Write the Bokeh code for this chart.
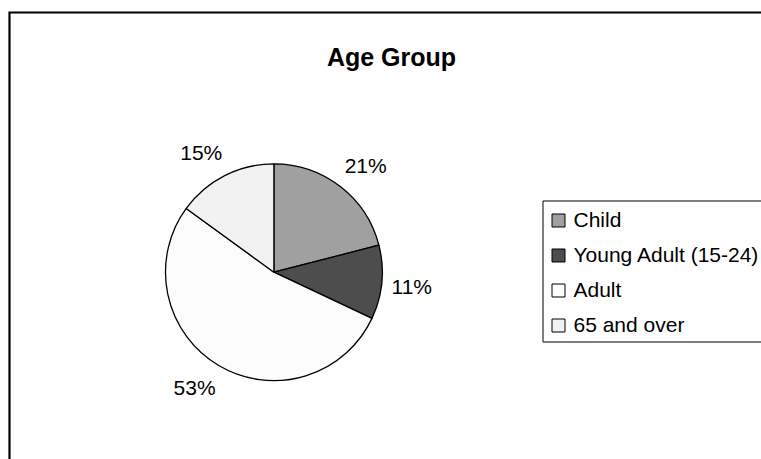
import numpy as np
from bokeh.plotting import figure
from bokeh.models import Range1d, ColumnDataSource
from bokeh.core.properties import value
from bokeh.embed import file_html
from bokeh.resources import INLINE

# ---- data ----
title_text = "Age Group"
categories = ["Child", "Young Adult (15-24)", "Adult", "65 and over"]
percentages = [21, 11, 53, 15]
slice_colors = ["#A0A0A0", "#4D4D4D", "#FCFCFC", "#F2F2F2"]

# ---- layout (page pixel coordinates) ----
W, H = 761, 459
PAGE_H = 459
FONT = value("Liberation Sans")


def py(y):
    return PAGE_H - np.asarray(y, dtype=float)


p = figure(width=W, height=H,
           x_range=Range1d(0, W), y_range=Range1d(PAGE_H - H, PAGE_H),
           x_axis_type=None, y_axis_type=None, toolbar_location=None,
           output_backend="svg", min_border=0, outline_line_color=None)
p.background_fill_color = "white"
p.border_fill_color = "white"

# chart area border (cropped at right and bottom)
p.line(x=[9, 9, 790], y=list(py([480, 12, 12])), line_width=2.2,
       line_color="black", line_join="miter")

# ---- pie ----
cx, cy, R = 273.4, float(py(271.7)), 108.4
vals = np.array(percentages, dtype=float)
frac = vals / vals.sum()
cum_end = np.cumsum(frac)
cum_start = cum_end - frac
top = np.pi / 2
starts = top - 2 * np.pi * cum_end
ends = top - 2 * np.pi * cum_start

src = ColumnDataSource(dict(start=starts, end=ends, color=slice_colors))
p.wedge(x=cx, y=cy, radius=R, start_angle="start", end_angle="end",
        fill_color="color", line_color="black", line_width=1.3, source=src)

# ---- data labels (outside end) ----
mid = top - 2 * np.pi * (cum_start + frac / 2)
d = R + 12
half_w, half_h = 18, 12
lx = cx + d * np.cos(mid) + half_w * np.clip(np.cos(mid) * 3, -1, 1)
ly = cy + d * np.sin(mid) + half_h * np.clip(np.sin(mid) * 3, -1, 1)
labels = [f"{v:.0f}%" for v in vals]
p.text(x=lx, y=ly, text=labels, text_align="center", text_baseline="middle",
       text_font=FONT, text_font_size="21px", text_color="black")

# ---- title ----
p.text(x=[391], y=[float(py(56))], text=[title_text], text_align="center",
       text_baseline="alphabetic", text_font=FONT, text_font_size="25px",
       text_font_style="bold", text_color="black")

# ---- legend ----
p.quad(left=542.5, right=790, top=float(py(200.5)), bottom=float(py(341.5)),
       fill_color="white", line_color="black", line_width=1)
rows = 220 + 35 * np.arange(len(categories))
p.rect(x=558, y=py(rows), width=13, height=13, fill_color=slice_colors,
       line_color="black", line_width=1)
p.text(x=573, y=py(rows - 1), text=categories, text_baseline="middle",
       text_font=FONT, text_font_size="21px", text_color="black")

open("out.html", "w").write(file_html(p, INLINE))
